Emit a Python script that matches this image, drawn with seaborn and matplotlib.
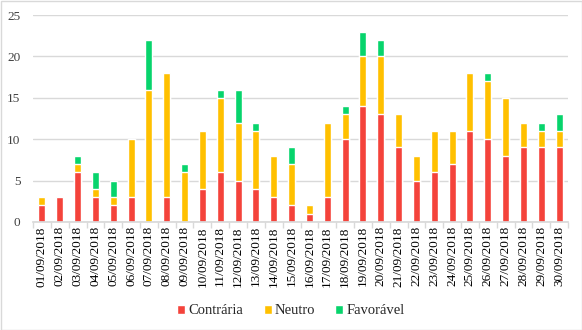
import matplotlib
matplotlib.use("Agg")
import matplotlib.pyplot as plt
import seaborn as sns
import numpy as np
import pandas as pd
from matplotlib.ticker import FixedLocator
from matplotlib.font_manager import FontProperties

dates = [f"{d:02d}/09/2018" for d in range(1, 31)]
contraria = [2, 3, 6, 3, 2, 3, 0, 3, 0, 4, 6, 5, 4, 3, 2, 1, 3, 10, 14, 13, 9, 5, 6, 7, 11, 10, 8, 9, 9, 9]
neutro    = [1, 0, 1, 1, 1, 7, 16, 15, 6, 7, 9, 7, 7, 5, 5, 1, 9, 3, 6, 7, 4, 3, 5, 4, 7, 7, 7, 3, 2, 2]
favoravel = [0, 0, 1, 2, 2, 0, 6, 0, 1, 0, 1, 4, 1, 0, 2, 0, 0, 1, 3, 2, 0, 0, 0, 0, 0, 1, 0, 0, 1, 2]
series_names = ["Contrária", "Neutro", "Favorável"]
colors = ["#F4433B", "#FFC000", "#07D46C"]

sns.set_theme(style="white")
plt.rcParams["font.family"] = ["Liberation Serif", "DejaVu Serif"]

df = pd.DataFrame({"date": dates, "c": contraria, "n": neutro, "f": favoravel})
df["cn"] = df["c"] + df["n"]
df["cnf"] = df["cn"] + df["f"]

fig = plt.figure(figsize=(5.82, 3.30), dpi=100)
ax = fig.add_axes([33/582, 1 - 222/330, (568-33)/582, (222-15)/330])

sns.barplot(data=df, x="date", y="cnf", color=colors[2], width=0.4, saturation=1, ax=ax, label=series_names[2])
sns.barplot(data=df, x="date", y="cn", color=colors[1], width=0.4, saturation=1, ax=ax, label=series_names[1])
sns.barplot(data=df, x="date", y="c", color=colors[0], width=0.4, saturation=1, ax=ax, label=series_names[0])

ax.set_ylim(0, 25)
ax.set_xlim(-0.5, 29.5)
ax.set_yticks([0, 5, 10, 15, 20, 25])
ax.yaxis.grid(True, color="#D9D9D9", linewidth=1)
ax.set_axisbelow(True)
for s in ["top", "right", "left"]:
    ax.spines[s].set_visible(False)
ax.spines["bottom"].set_color("#D9D9D9")
ax.set_xlabel("")
ax.set_ylabel("")
ax.tick_params(axis="y", labelsize=9.5, colors="#404040", length=0, pad=9)
ax.tick_params(axis="x", labelsize=9.5, colors="#000000", rotation=90, length=0, pad=3)
ax.xaxis.set_minor_locator(FixedLocator(np.arange(-0.5, 30, 1)))
ax.tick_params(axis="x", which="minor", length=4, color="#D9D9D9", bottom=True)

handles, labels = ax.get_legend_handles_labels()
order = [labels.index(n) for n in series_names]
leg = fig.legend([handles[i] for i in order], [labels[i] for i in order],
                 loc="center", bbox_to_anchor=(0.5, 1 - 311/330), ncol=3, frameon=False,
                 prop=FontProperties(family="Liberation Serif", size=10.5),
                 handlelength=0.55, handleheight=0.55, handletextpad=0.2, columnspacing=1.4)
if ax.get_legend():
    ax.get_legend().remove()

border = plt.Rectangle((0.5/582, 0.5/330), 1 - 1/582, 1 - 1/330, transform=fig.transFigure,
                       fill=False, edgecolor="#D9D9D9", linewidth=1)
fig.patches.append(border)

fig.savefig("out.png", dpi=100)
